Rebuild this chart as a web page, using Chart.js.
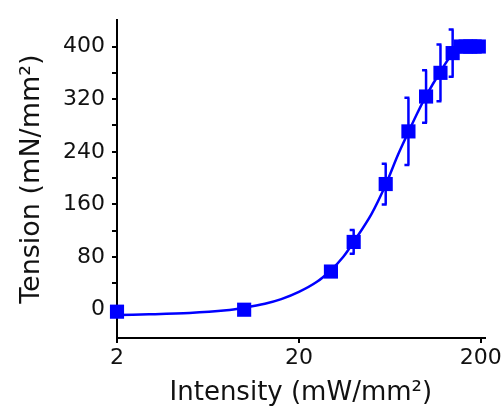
<!DOCTYPE html>
<html>
<head>
<meta charset="utf-8">
<script src="https://cdn.jsdelivr.net/npm/chart.js@4/dist/chart.umd.min.js"></script>
<style>
  html, body { margin: 0; padding: 0; background: #fff; }
  #wrap { width: 504px; height: 409px; }
</style>
</head>
<body>
<div id="wrap"><canvas id="tensionChart"></canvas></div>
<script>
// measured points (mean +/- error)
const intensity = [2, 10, 30, 40, 60, 80, 100, 120, 140];
const tension = [-3, 0, 58, 103, 191, 271, 324, 360, 390];
const tensionErr = [0, 0, 0, 18, 31, 51, 40, 43, 36];

// saturated points at the top
const plateauX = [155, 165, 175, 185, 195];
const plateauY = [400, 400, 400, 400, 400];

// fitted curve
const fitX = [2, 3, 5, 8, 10, 13, 16, 20, 25, 30, 35, 40, 50, 60, 70, 80, 90, 100, 120, 140, 150];
const fitY = [-8, -7, -5, -1, 3, 9, 16, 27, 42, 60, 80, 103, 145, 190, 235, 270, 300, 325, 362, 390, 398];

const xTicks = [2, 20, 200];
const yTicks = [0, 80, 160, 240, 320, 400];

const BLUE = '#0000ff';
const TXT = '#111';

const toXY = (xs, ys) => xs.map((x, i) => ({ x: x, y: ys[i] }));

// error bars, caps drawn to the left like in the original
const errorBars = {
  id: 'errorBars',
  afterDatasetsDraw(chart) {
    const ctx = chart.ctx;
    const xs = chart.scales.x;
    const ys = chart.scales.y;
    ctx.save();
    ctx.strokeStyle = BLUE;
    ctx.lineWidth = 2.5;
    intensity.forEach((v, i) => {
      const e = tensionErr[i];
      if (!e) return;
      const px = xs.getPixelForValue(v);
      const top = ys.getPixelForValue(tension[i] + e);
      const bot = ys.getPixelForValue(tension[i] - e);
      ctx.beginPath();
      ctx.moveTo(px, top);
      ctx.lineTo(px, bot);
      ctx.moveTo(px - 4, top);
      ctx.lineTo(px + 1, top);
      ctx.moveTo(px - 4, bot);
      ctx.lineTo(px + 1, bot);
      ctx.stroke();
    });
    ctx.restore();
  }
};

new Chart(document.getElementById('tensionChart'), {
  type: 'scatter',
  data: {
    datasets: [
      {
        label: 'fit',
        data: toXY(fitX, fitY),
        showLine: true,
        borderColor: BLUE,
        borderWidth: 2.5,
        pointRadius: 0,
        tension: 0.3,
        clip: false
      },
      {
        label: 'data',
        data: toXY(intensity, tension),
        pointStyle: 'rect',
        pointRadius: 10,
        backgroundColor: BLUE,
        borderColor: BLUE,
        borderWidth: 0,
        clip: false
      },
      {
        label: 'plateau',
        data: toXY(plateauX, plateauY),
        pointStyle: 'rect',
        pointRadius: 10,
        backgroundColor: BLUE,
        borderColor: BLUE,
        borderWidth: 0,
        clip: false
      }
    ]
  },
  options: {
    responsive: true,
    maintainAspectRatio: false,
    animation: false,
    layout: { padding: { top: 15, right: 17, bottom: 0, left: 0 } },
    plugins: { legend: { display: false }, tooltip: { enabled: false } },
    scales: {
      x: {
        type: 'logarithmic',
        min: 2,
        max: 210,
        afterBuildTicks: (scale) => { scale.ticks = xTicks.map(v => ({ value: v })); },
        afterFit: (scale) => { scale.height = 71; },
        border: { display: true, color: '#000', width: 2 },
        grid: { drawOnChartArea: false, drawTicks: true, tickLength: 5, color: '#000', lineWidth: 2 },
        ticks: {
          color: TXT,
          padding: 2,
          maxRotation: 0,
          autoSkip: false,
          font: { family: 'DejaVu Sans', size: 22 },
          callback: (v) => String(v)
        },
        title: {
          display: true,
          text: 'Intensity (mW/mm²)',
          color: TXT,
          font: { family: 'DejaVu Sans', size: 26 },
          padding: { top: 0, bottom: 0 }
        }
      },
      y: {
        min: -43,
        max: 440,
        afterBuildTicks: (scale) => {
          const t = [];
          for (let v = 0; v <= 400; v += 40) t.push({ value: v });
          scale.ticks = t;
        },
        afterFit: (scale) => { scale.width = 117; },
        border: { display: true, color: '#000', width: 2 },
        grid: { drawOnChartArea: false, drawTicks: true, tickLength: 5, color: '#000', lineWidth: 2 },
        ticks: {
          color: TXT,
          padding: 7,
          autoSkip: false,
          font: { family: 'DejaVu Sans', size: 22 },
          callback: (v) => (yTicks.includes(v) ? String(v) : '')
        },
        title: {
          display: true,
          text: 'Tension (mN/mm²)',
          color: TXT,
          font: { family: 'DejaVu Sans', size: 27 },
          padding: { top: 16, bottom: 0 }
        }
      }
    }
  },
  plugins: [errorBars]
});
</script>
</body>
</html>
